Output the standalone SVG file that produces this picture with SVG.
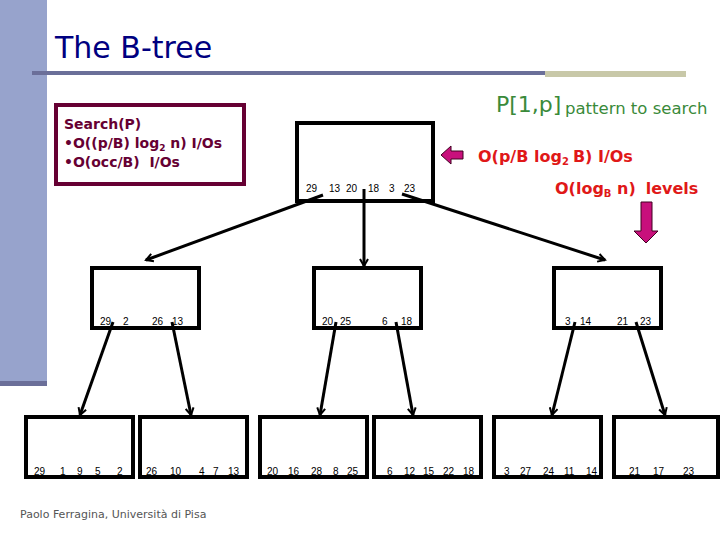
<svg xmlns="http://www.w3.org/2000/svg" width="720" height="540" viewBox="0 0 720 540">
<defs>
<marker id="ah" markerWidth="10" markerHeight="10" refX="8" refY="5" orient="auto" markerUnits="userSpaceOnUse" viewBox="0 0 10 10">
<path d="M1,1 L8,5 L1,9" fill="none" stroke="#000" stroke-width="2"/>
</marker>
</defs>
<style>
.box{fill:#fff;stroke:#000;stroke-width:4}
.k{font-family:"Liberation Sans",Arial,sans-serif;font-size:10px;fill:#000}
.c{stroke:#000;stroke-width:3;fill:none;marker-end:url(#ah)}
.red{font-family:"DejaVu Sans",sans-serif;font-weight:bold;font-size:16px;fill:#e01818}
.pink{fill:#c8107c;stroke:#400020;stroke-width:1}
</style>
<rect width="720" height="540" fill="#fff"/>
<rect x="0" y="0" width="47" height="382" fill="#97a3cc"/>
<rect x="0" y="381" width="47" height="5" fill="#6b6f99"/>
<text x="55" y="58" font-family="DejaVu Sans, Verdana, sans-serif" font-size="30" fill="#000080">The B-tree</text>
<rect x="32" y="71" width="514" height="4" fill="#6b6f99"/>
<rect x="545" y="71" width="141" height="6" fill="#c8c8a8"/>
<g id="search">
<rect x="56" y="105" width="188" height="79" fill="#fff" stroke="#660033" stroke-width="4"/>
<g font-family="DejaVu Sans, sans-serif" font-size="14" font-weight="bold" fill="#660033">
<text x="64" y="129">Search(P)</text>
<text x="64" y="148">•O((p/B) log<tspan font-size="9" dy="3">2</tspan><tspan dy="-3"> n) I/Os</tspan></text>
<text x="64" y="167" xml:space="preserve">•O(occ/B)  I/Os</text>
</g>
</g>
<g id="pattern">
<text x="496" y="112" font-family="DejaVu Sans, sans-serif" font-size="22" fill="#3a8a3a">P[1,p]</text>
<text x="565" y="114" font-family="DejaVu Sans, sans-serif" font-size="16.5" fill="#3a8a3a">pattern to search</text>
</g>
<g id="cost1">
<path class="pink" d="M441,155 L451,146 L451,151 L463,151 L463,159 L451,159 L451,164 Z"/>
<text class="red" x="478" y="162" font-size="16.5">O(p/B log<tspan font-size="10" dy="3">2</tspan><tspan dy="-3" dx="4">B) I/Os</tspan></text>
</g>
<g id="cost2">
<text class="red" x="555" y="194">O(log<tspan font-size="10" dy="3">B</tspan><tspan dy="-3"> n)</tspan><tspan dx="10">levels</tspan></text>
<path class="pink" d="M641,202 L652,202 L652,231 L658,231 L646,243 L634,231 L641,231 Z"/>
</g>
<g id="root">
<rect class="box" x="297" y="123" width="136" height="78"/>
<text class="k" x="306" y="192">29</text><text class="k" x="329" y="192">13</text><text class="k" x="346" y="192">20</text>
<text class="k" x="368" y="192">18</text><text class="k" x="389" y="192">3</text><text class="k" x="404" y="192">23</text>
</g>
<g id="n1">
<rect class="box" x="92" y="268" width="107" height="60"/>
<text class="k" x="100" y="325">29</text><text class="k" x="123" y="325">2</text><text class="k" x="152" y="325">26</text><text class="k" x="172" y="325">13</text>
</g>
<g id="n2">
<rect class="box" x="314" y="268" width="107" height="60"/>
<text class="k" x="322" y="325">20</text><text class="k" x="340" y="325">25</text><text class="k" x="382" y="325">6</text><text class="k" x="401" y="325">18</text>
</g>
<g id="n3">
<rect class="box" x="554" y="268" width="107" height="60"/>
<text class="k" x="565" y="325">3</text><text class="k" x="580" y="325">14</text><text class="k" x="617" y="325">21</text><text class="k" x="640" y="325">23</text>
</g>
<g id="l1"><rect class="box" x="26" y="417" width="107" height="60"/>
<text class="k" x="34" y="475">29</text><text class="k" x="60" y="475">1</text><text class="k" x="77" y="475">9</text><text class="k" x="95" y="475">5</text><text class="k" x="117" y="475">2</text></g>
<g id="l2"><rect class="box" x="140" y="417" width="107" height="60"/>
<text class="k" x="146" y="475">26</text><text class="k" x="170" y="475">10</text><text class="k" x="199" y="475">4</text><text class="k" x="213" y="475">7</text><text class="k" x="228" y="475">13</text></g>
<g id="l3"><rect class="box" x="260" y="417" width="107" height="60"/>
<text class="k" x="267" y="475">20</text><text class="k" x="288" y="475">16</text><text class="k" x="311" y="475">28</text><text class="k" x="333" y="475">8</text><text class="k" x="347" y="475">25</text></g>
<g id="l4"><rect class="box" x="374" y="417" width="107" height="60"/>
<text class="k" x="387" y="475">6</text><text class="k" x="404" y="475">12</text><text class="k" x="423" y="475">15</text><text class="k" x="443" y="475">22</text><text class="k" x="463" y="475">18</text></g>
<g id="l5"><rect class="box" x="494" y="417" width="107" height="60"/>
<text class="k" x="504" y="475">3</text><text class="k" x="520" y="475">27</text><text class="k" x="543" y="475">24</text><text class="k" x="564" y="475">11</text><text class="k" x="586" y="475">14</text></g>
<g id="l6"><rect class="box" x="614" y="417" width="104" height="60"/>
<text class="k" x="629" y="475">21</text><text class="k" x="653" y="475">17</text><text class="k" x="683" y="475">23</text></g>
<g id="connectors">
<line class="c" x1="323" y1="195" x2="146" y2="260"/>
<line class="c" x1="364" y1="189" x2="364" y2="266"/>
<line class="c" x1="402" y1="194" x2="605" y2="260"/>
<line class="c" x1="113" y1="322" x2="80" y2="415"/>
<line class="c" x1="172" y1="322" x2="191" y2="415"/>
<line class="c" x1="336" y1="322" x2="320" y2="415"/>
<line class="c" x1="396" y1="322" x2="413" y2="415"/>
<line class="c" x1="575" y1="322" x2="552" y2="415"/>
<line class="c" x1="636" y1="322" x2="665" y2="415"/>
</g>
<text x="20" y="518" font-family="DejaVu Sans, sans-serif" font-size="11" fill="#555">Paolo Ferragina, Università di Pisa</text>
</svg>
